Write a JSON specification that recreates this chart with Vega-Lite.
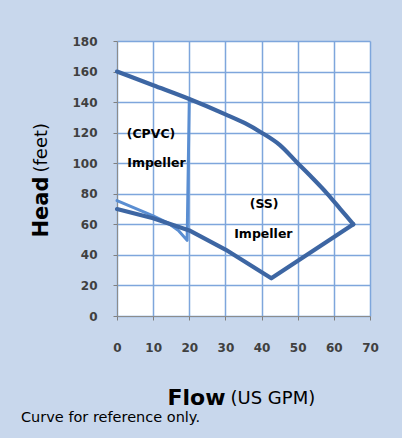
{
  "$schema": "https://vega.github.io/schema/vega-lite/v6.json",
  "width": 253,
  "height": 275,
  "autosize": {"type": "none"},
  "padding": {"left": 117, "top": 41, "right": 32, "bottom": 122},
  "background": "#C8D7EC",
  "config": {
    "view": {"fill": "white", "stroke": null},
    "font": "DejaVu Sans"
  },
  "title": {
    "text": "Curve for reference only.",
    "orient": "bottom",
    "anchor": "start",
    "frame": "group",
    "dx": -96,
    "offset": 3,
    "font": "DejaVu Sans",
    "fontSize": 14.5,
    "fontWeight": "normal",
    "color": "#000000"
  },
  "datasets": {
    "curves": [
      {"series": "CPVC", "i": 1, "flow": 0, "head": 75.5},
      {"series": "CPVC", "i": 2, "flow": 10, "head": 65.5},
      {"series": "CPVC", "i": 3, "flow": 14, "head": 61},
      {"series": "CPVC", "i": 4, "flow": 17, "head": 56},
      {"series": "CPVC", "i": 5, "flow": 19.4, "head": 49.5},
      {"series": "CPVC", "i": 6, "flow": 20, "head": 141.5},
      {"series": "SS", "i": 1, "flow": 65.4, "head": 60},
      {"series": "SS", "i": 2, "flow": 42.7, "head": 24.7},
      {"series": "SS", "i": 3, "flow": 30, "head": 43.5},
      {"series": "SS", "i": 4, "flow": 20, "head": 56},
      {"series": "SS", "i": 5, "flow": 10, "head": 64},
      {"series": "SS", "i": 6, "flow": 0, "head": 70}
    ],
    "ssTop": [
      {"flow": 0, "head": 160},
      {"flow": 10, "head": 151},
      {"flow": 20, "head": 142},
      {"flow": 30, "head": 132},
      {"flow": 35.4, "head": 126.2},
      {"flow": 40, "head": 120},
      {"flow": 45, "head": 112},
      {"flow": 50, "head": 100},
      {"flow": 54, "head": 90.5},
      {"flow": 58.2, "head": 80},
      {"flow": 61.8, "head": 70},
      {"flow": 65.4, "head": 60}
    ],
    "labels": [
      {"label": "(CPVC)", "flow": 9.4, "head": 119},
      {"label": "Impeller", "flow": 10.9, "head": 100},
      {"label": "(SS)", "flow": 40.7, "head": 73},
      {"label": "Impeller", "flow": 40.5, "head": 54}
    ]
  },
  "layer": [
    {
      "data": {"name": "curves"},
      "mark": {"type": "line", "strokeJoin": "round", "strokeCap": "round"},
      "encoding": {
        "x": {
          "field": "flow",
          "type": "quantitative",
          "scale": {"domain": [0, 70], "nice": false, "zero": false},
          "axis": {
            "orient": "bottom",
            "values": [0, 10, 20, 30, 40, 50, 60, 70],
            "title": "Flow",
            "titleFont": "DejaVu Sans",
            "titleFontSize": 22,
            "titleFontWeight": "bold",
            "titleColor": "#000000",
            "titleAlign": "left",
            "titleAnchor": null,
            "titleBaseline": "alphabetic",
            "titleX": 50,
            "titleY": 88,
            "labelFont": "DejaVu Sans",
            "labelFontSize": 12,
            "labelFontWeight": "bold",
            "labelColor": "#404040",
            "labelPadding": 22,
            "labelFlush": false,
            "tickSize": 4,
            "tickColor": "#7F7F7F",
            "domainColor": "#8C8C8C",
            "grid": true,
            "gridColor": "#7EA6DC",
            "gridWidth": 1.5
          }
        },
        "y": {
          "field": "head",
          "type": "quantitative",
          "scale": {"domain": [0, 180], "nice": false},
          "axis": {
            "orient": "left",
            "values": [0, 20, 40, 60, 80, 100, 120, 140, 160, 180],
            "title": "Head",
            "titleFont": "DejaVu Sans",
            "titleFontSize": 21,
            "titleFontWeight": "bold",
            "titleColor": "#000000",
            "titleAngle": -90,
            "titleAlign": "left",
            "titleAnchor": null,
            "titleBaseline": "alphabetic",
            "titleX": -70,
            "titleY": 196,
            "labelFont": "DejaVu Sans",
            "labelFontSize": 12,
            "labelFontWeight": "bold",
            "labelColor": "#404040",
            "labelPadding": 16,
            "labelFlush": false,
            "tickSize": 4,
            "tickColor": "#7F7F7F",
            "domainColor": "#8C8C8C",
            "grid": true,
            "gridColor": "#7EA6DC",
            "gridWidth": 1.5
          }
        },
        "color": {
          "field": "series",
          "type": "nominal",
          "scale": {"domain": ["CPVC", "SS"], "range": ["#5A8ED2", "#3D66A3"]},
          "legend": null
        },
        "strokeWidth": {
          "field": "series",
          "type": "nominal",
          "scale": {"domain": ["CPVC", "SS"], "range": [3, 4.2]},
          "legend": null
        },
        "order": {"field": "i"}
      }
    },
    {
      "data": {"name": "ssTop"},
      "mark": {"type": "line", "interpolate": "monotone", "strokeCap": "round", "color": "#3D66A3", "strokeWidth": 4.2},
      "encoding": {
        "x": {"field": "flow", "type": "quantitative", "scale": {"domain": [0, 70], "nice": false, "zero": false}, "axis": null},
        "y": {"field": "head", "type": "quantitative", "scale": {"domain": [0, 180], "nice": false}, "axis": null}
      }
    },
    {
      "data": {"name": "labels"},
      "mark": {"type": "text", "font": "DejaVu Sans", "fontSize": 12.5, "fontWeight": "bold", "color": "#000000", "baseline": "middle", "align": "center"},
      "encoding": {
        "x": {
          "field": "flow",
          "type": "quantitative",
          "scale": {"domain": [0, 70], "nice": false, "zero": false},
          "axis": {
            "orient": "top",
            "title": "(US GPM)",
            "titleFont": "DejaVu Sans",
            "titleFontSize": 18,
            "titleFontWeight": "normal",
            "titleColor": "#000000",
            "titleAlign": "left",
            "titleAnchor": null,
            "titleBaseline": "alphabetic",
            "titleX": 113,
            "titleY": 362,
            "labels": false,
            "ticks": false,
            "domain": false,
            "grid": false
          }
        },
        "y": {
          "field": "head",
          "type": "quantitative",
          "scale": {"domain": [0, 180], "nice": false},
          "axis": {
            "orient": "right",
            "title": "(feet)",
            "titleFont": "DejaVu Sans",
            "titleFontSize": 18,
            "titleFontWeight": "normal",
            "titleColor": "#000000",
            "titleAngle": -90,
            "titleAlign": "left",
            "titleAnchor": null,
            "titleBaseline": "alphabetic",
            "titleX": -324,
            "titleY": 131,
            "labels": false,
            "ticks": false,
            "domain": false,
            "grid": false
          }
        },
        "text": {"field": "label", "type": "nominal"}
      }
    }
  ],
  "resolve": {"axis": {"x": "independent", "y": "independent"}}
}
